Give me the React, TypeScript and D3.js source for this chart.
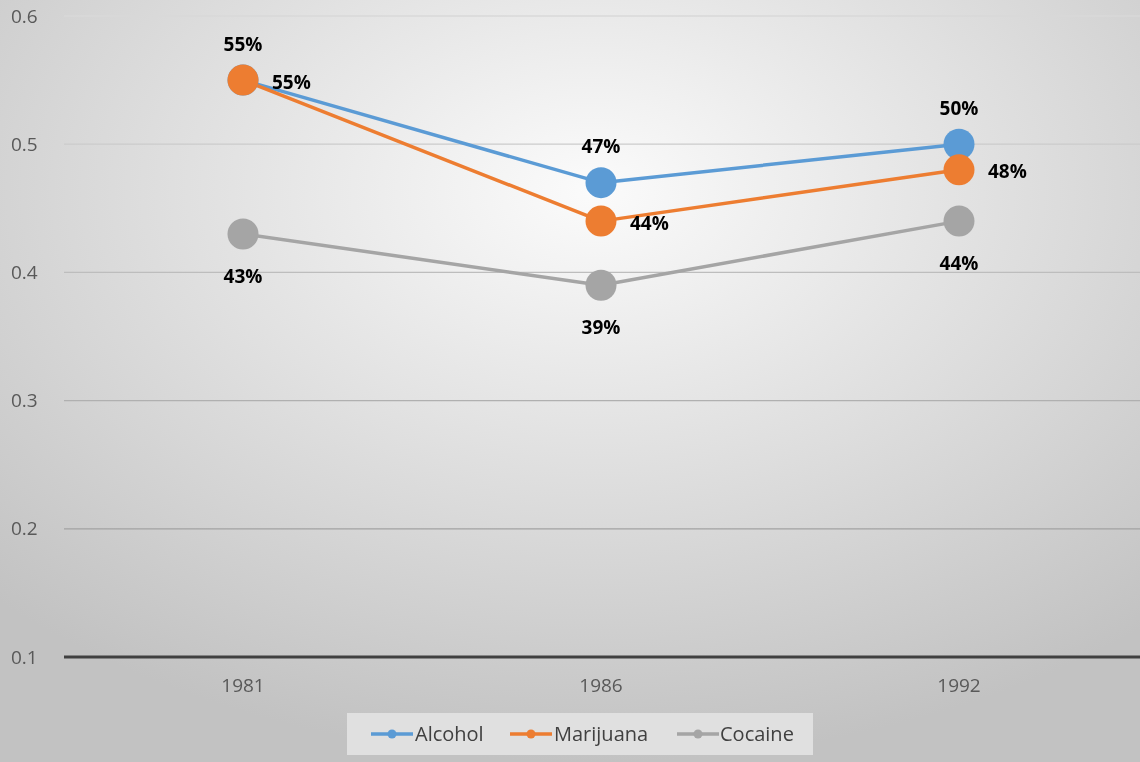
import React from "react";
import * as d3 from "d3";

const years = ["1981", "1986", "1992"];
const alcohol = [0.55, 0.47, 0.5];
const marijuana = [0.55, 0.44, 0.48];
const cocaine = [0.43, 0.39, 0.44];
const yTicks = [0.1, 0.2, 0.3, 0.4, 0.5, 0.6];
const seriesNames = ["Alcohol", "Marijuana", "Cocaine"];
const labelPositions = [
  ["right", "top", "top"],
  ["top", "right", "right"],
  ["bottom", "bottom", "bottom"],
];

const W = 1140;
const H = 762;
const colors = ["#5B9BD5", "#ED7D31", "#A5A5A5"];
const font = "'Open Sans', 'Liberation Sans', sans-serif";

export default function App() {
  const x = d3.scaleBand<string>().domain(years).range([64, 1138]);
  const y = d3.scaleLinear().domain([0.1, 0.6]).range([657, 16]);
  const cx = (yr: string) => (x(yr) as number) + x.bandwidth() / 2;
  const values = [alcohol, marijuana, cocaine];
  const line = d3
    .line<number>()
    .x((_, i) => cx(years[i]))
    .y((v) => y(v));
  const gridColor = d3.scaleLinear<string>().domain([0.6, 0.2]).range(["#d8d8d8", "#a2a2a2"]);

  const legendItems = [
    { x: 371, tx: 415 },
    { x: 510, tx: 554 },
    { x: 677, tx: 720 },
  ];

  return (
    <svg width={W} height={H} style={{ position: "fixed", left: 0, top: 0 }} fontFamily={font}>
      <defs>
        <radialGradient id="bg" cx="52%" cy="25%" r="75%" fx="52%" fy="25%">
          <stop offset="0%" stopColor="#fbfbfb" />
          <stop offset="100%" stopColor="#c2c2c2" />
        </radialGradient>
      </defs>
      <rect x={0} y={0} width={W} height={H} fill="url(#bg)" />
      {yTicks.map((t) => (
        <g key={t}>
          {t > 0.1 && (
            <line x1={64} x2={W} y1={y(t)} y2={y(t)} stroke={gridColor(t)} strokeWidth={1.3} />
          )}
          <text x={11} y={y(t)} dy="0.35em" fontSize={19} fill="#595959">
            {String(t)}
          </text>
        </g>
      ))}
      <line x1={64} x2={W} y1={y(0.1)} y2={y(0.1)} stroke="#404040" strokeWidth={3} />
      {years.map((yr) => (
        <text key={yr} x={cx(yr)} y={690} dy="0.1em" textAnchor="middle" fontSize={19} fill="#595959">
          {yr}
        </text>
      ))}
      {values.map((vals, si) => (
        <path key={si} d={line(vals) || ""} fill="none" stroke={colors[si]} strokeWidth={3.5} strokeLinejoin="round" />
      ))}
      {values.map((vals, si) => (
        <g key={"m" + si}>
          {vals.map((v, i) => (
            <circle key={i} cx={cx(years[i])} cy={y(v)} r={15.5} fill={colors[si]} />
          ))}
        </g>
      ))}
      {values.map((vals, si) => (
        <g key={"l" + si}>
          {vals.map((v, i) => {
            const px = cx(years[i]);
            const py = y(v);
            const pos = labelPositions[si][i];
            let lx = px;
            let ly = py;
            let anchor: "middle" | "start" = "middle";
            if (pos === "top") ly = py - 36;
            else if (pos === "bottom") ly = py + 42;
            else {
              lx = px + 29;
              anchor = "start";
              ly = py + 2;
            }
            return (
              <text key={i} x={lx} y={ly} dy="0.35em" textAnchor={anchor} fontSize={19} fontWeight="bold" fill="#000">
                {Math.round(v * 100) + "%"}
              </text>
            );
          })}
        </g>
      ))}
      <rect x={347} y={713} width={466} height={42} fill="#e0e0e0" />
      {seriesNames.map((name, i) => (
        <g key={name}>
          <line x1={legendItems[i].x} x2={legendItems[i].x + 42} y1={734} y2={734} stroke={colors[i]} strokeWidth={3.5} />
          <circle cx={legendItems[i].x + 21} cy={734} r={4.5} fill={colors[i]} />
          <text x={legendItems[i].tx} y={734} dy="0.35em" fontSize={20} fill="#404040">
            {name}
          </text>
        </g>
      ))}
    </svg>
  );
}
